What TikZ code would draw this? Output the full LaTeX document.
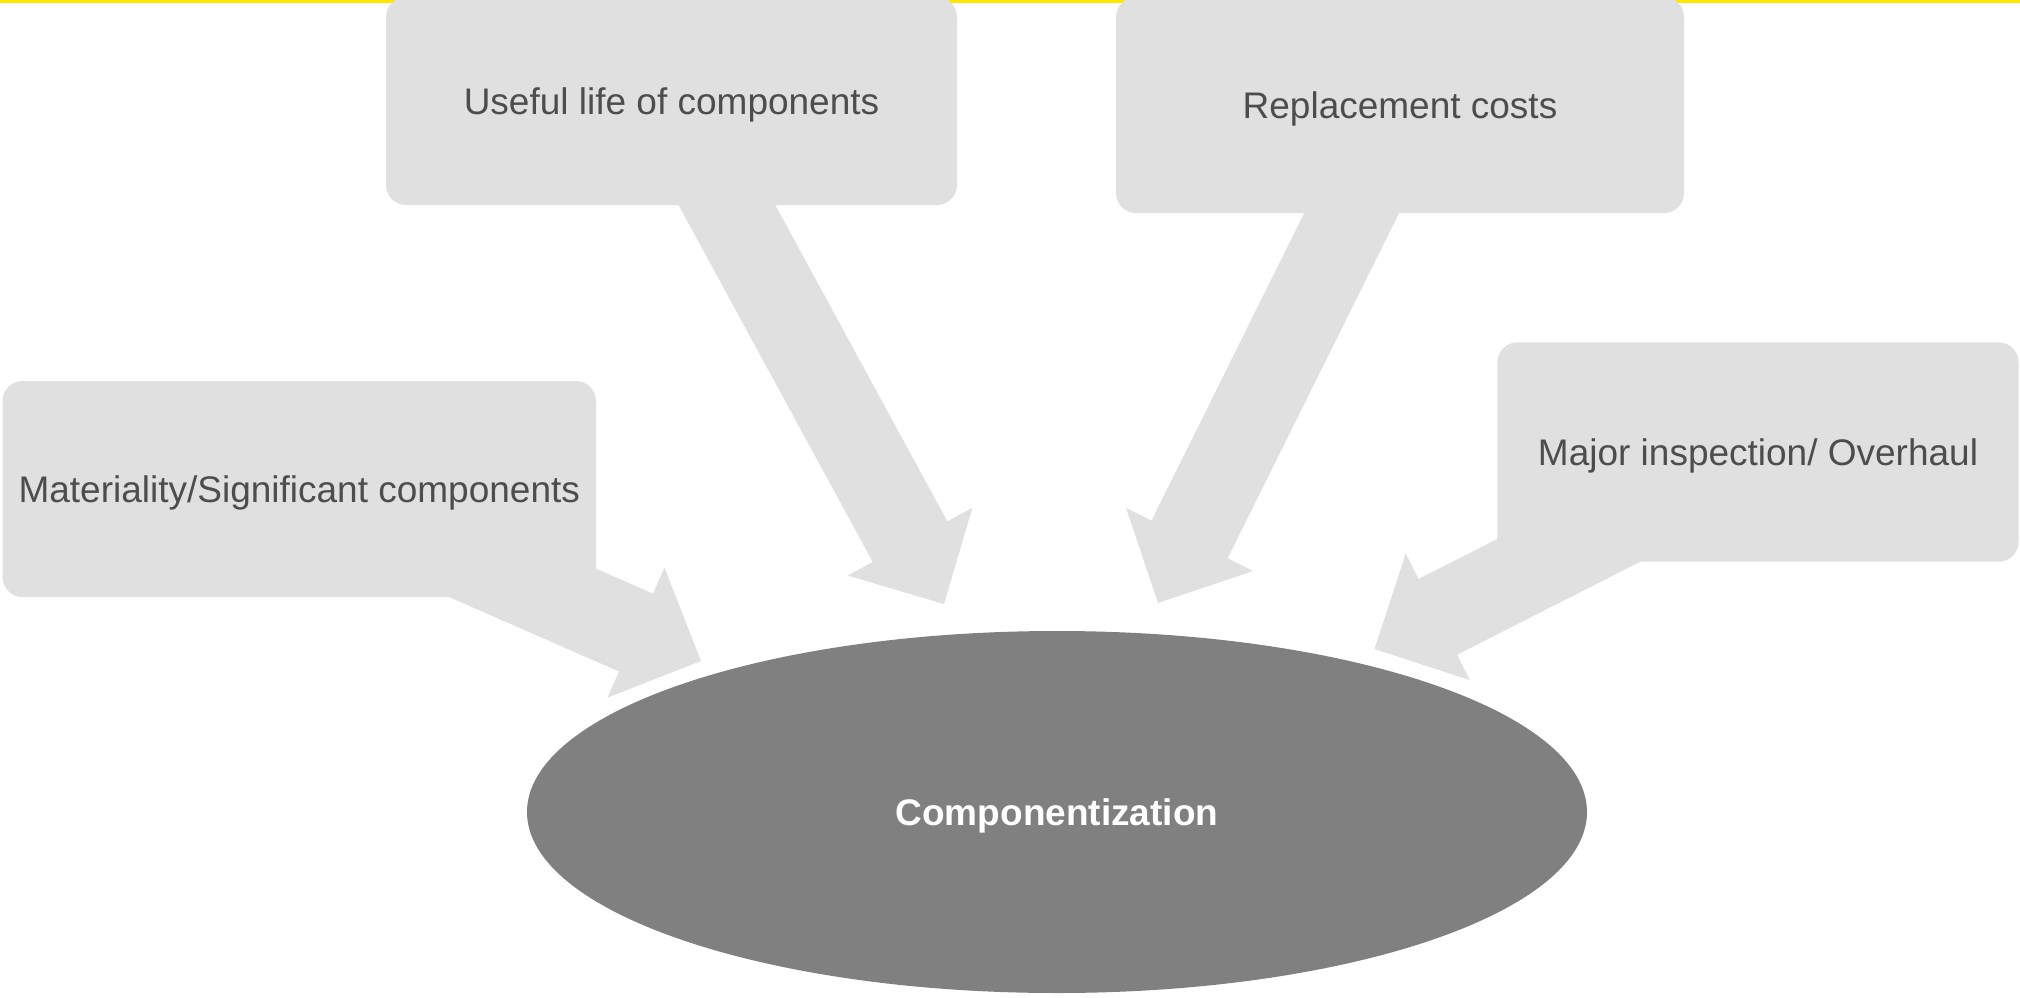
\documentclass[tikz,border=0pt]{standalone}
\usepackage{fontspec}
\setmainfont{Liberation Sans}
\usetikzlibrary{calc,shapes.geometric}
\definecolor{boxgray}{RGB}{224,224,224}
\definecolor{txtgray}{RGB}{77,77,77}
\definecolor{ovalgray}{RGB}{128,128,128}
\definecolor{eyyellow}{RGB}{255,230,0}
% fat block arrow from tail (#1) to tip (#2)
\newcommand\fatarrow[2]{%
  \coordinate (hb) at ($(#2)!35.5pt!(#1)$);
  \fill[arrowshape] ($(#1)!21.25pt!90:(#2)$) -- ($(hb)!21.25pt!90:(#2)$)
    -- ($(hb)!35.5pt!90:(#2)$) -- (#2) -- ($(hb)!35.5pt!-90:(#2)$)
    -- ($(hb)!21.25pt!-90:(#2)$) -- ($(#1)!21.25pt!-90:(#2)$) -- cycle;
}
\begin{document}
\begin{tikzpicture}[x=0.5pt,y=-0.5pt,
  arrowshape/.style={fill=boxgray},
  callout/.style={fill=boxgray, rounded corners=10pt, inner sep=0pt,
    text=txtgray, font=\fontsize{18.5pt}{22pt}\selectfont,
    text height=13.25pt, text depth=0pt, align=center},
  core/.style={ellipse, fill=ovalgray, inner sep=0pt, text=white,
    font=\fontsize{18.5pt}{22pt}\selectfont\bfseries,
    text height=13.25pt, text depth=0pt,
    minimum width=530pt, minimum height=181pt}]
\useasboundingbox (0,0) rectangle (2020,997);
\fill[eyyellow] (0,0) rectangle (2020,2.5);
% arrow tails and tips
\coordinate (t1) at (710,174);   \coordinate (p1) at (944,604);
\coordinate (t2) at (1376,164);  \coordinate (p2) at (1158,603);
\coordinate (t3) at (427,541);   \coordinate (p3) at (701,661);
\coordinate (t4) at (1668,500);  \coordinate (p4) at (1374.5,649);
\fatarrow{t1}{p1}
\fatarrow{t2}{p2}
\fatarrow{t3}{p3}
\fatarrow{t4}{p4}
% boxes
\node[callout, minimum width=285.5pt, minimum height=104pt] (life) at (671.5,101) {Useful life of components};
\node[callout, minimum width=284pt, minimum height=108pt] (repl) at (1400,105) {Replacement costs};
\node[callout, minimum width=296.75pt, minimum height=108pt] (mat) at (299.25,489) {Materiality/Significant components};
\node[callout, minimum width=260.6pt, minimum height=109.7pt] (insp) at (1758,452) {Major inspection/ Overhaul};
\node[core] (comp) at (1057,812) {Componentization};
\end{tikzpicture}
\end{document}
